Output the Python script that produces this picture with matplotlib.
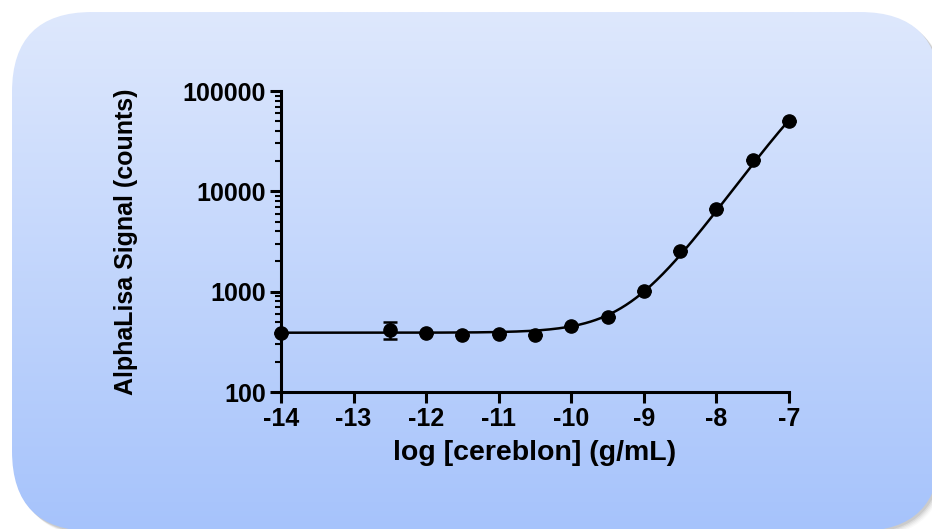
import numpy as np
import matplotlib
matplotlib.use("Agg")
import matplotlib.pyplot as plt
from matplotlib.patches import FancyBboxPatch
from matplotlib.ticker import FixedLocator, LogLocator, NullFormatter

plt.rcParams['font.family'] = ['Liberation Sans', 'DejaVu Sans']
plt.rcParams['font.weight'] = 'bold'

# data
log_conc = [-14, -12.5, -12, -11.5, -11, -10.5, -10, -9.5, -9, -8.5, -8, -7.5, -7]
signal = [387, 415, 387, 370, 378, 370, 455, 560, 1015, 2550, 6680, 20600, 50400]
signal_err = [0, 80, 0, 0, 0, 0, 0, 0, 0, 0, 0, 0, 0]

# fitted 4PL curve parameters
bottom = 390
top = 300000
log_ec50 = -6.31
hill = 1.0

fig = plt.figure(figsize=(9.32, 5.29), dpi=100)

# background panel with gradient and shadow
bg = fig.add_axes([0, 0, 1, 1], zorder=0)
bg.set_xlim(0, 932)
bg.set_ylim(529, 0)
bg.axis('off')

px0, py0, pw, ph = 12, 12, 940 - 12, 531 - 12
for i, a in enumerate([0.07, 0.05, 0.04, 0.03, 0.02]):
    sh = FancyBboxPatch((px0 + 2 + i, py0 + 2 + i), pw, ph,
                        boxstyle="round,pad=0,rounding_size=80",
                        facecolor='black', edgecolor='none', alpha=a)
    bg.add_patch(sh)

panel = FancyBboxPatch((px0, py0), pw, ph,
                       boxstyle="round,pad=0,rounding_size=80",
                       facecolor='none', edgecolor='none')
bg.add_patch(panel)
top_col = np.array([0xde, 0xe8, 0xfd]) / 255
bot_col = np.array([0xa6, 0xc3, 0xfb]) / 255
t = np.linspace(0, 1, 256)[:, None]
grad = top_col[None, :] * (1 - t) + bot_col[None, :] * t
grad = np.repeat(grad[:, None, :], 2, axis=1)
im = bg.imshow(grad, extent=[px0, px0 + pw, py0 + ph, py0], aspect='auto', zorder=1)
im.set_clip_path(panel)

# main plot
ax = fig.add_axes([281 / 932, (529 - 392) / 529, 508 / 932, 301 / 529], zorder=2)
ax.patch.set_alpha(0)
ax.set_yscale('log')
ax.set_xlim(-14, -7)
ax.set_ylim(100, 100000)

xs = np.linspace(-14, -7, 400)
fit = bottom + (top - bottom) / (1 + 10 ** ((log_ec50 - xs) * hill))
ax.plot(xs, fit, color='black', lw=1.8, zorder=3)
ax.errorbar(log_conc, signal, yerr=signal_err, fmt='o', color='black',
            markersize=9.5, elinewidth=1.8, capsize=5, capthick=1.8,
            clip_on=False, zorder=4)

for s in ['top', 'right']:
    ax.spines[s].set_visible(False)
for s in ['left', 'bottom']:
    ax.spines[s].set_linewidth(2.2)

ax.xaxis.set_major_locator(FixedLocator(range(-14, -6)))
ax.set_xticklabels([str(v) for v in range(-14, -6)])
ax.yaxis.set_major_locator(FixedLocator([100, 1000, 10000, 100000]))
ax.set_yticklabels(['100', '1000', '10000', '100000'])
ax.yaxis.set_minor_locator(LogLocator(base=10, subs=np.arange(2, 10)))
ax.yaxis.set_minor_formatter(NullFormatter())
ax.tick_params(axis='both', which='major', length=8, width=2.2,
               labelsize=18, pad=3)
ax.tick_params(axis='y', which='minor', length=4, width=1.5)

ax.set_xlabel('log [cereblon] (g/mL)', fontsize=20.5, fontweight='bold',
              labelpad=6)
ax.set_ylabel('AlphaLisa Signal (counts)', fontsize=18, fontweight='bold',
              labelpad=32)

fig.savefig('out.png', dpi=100)
